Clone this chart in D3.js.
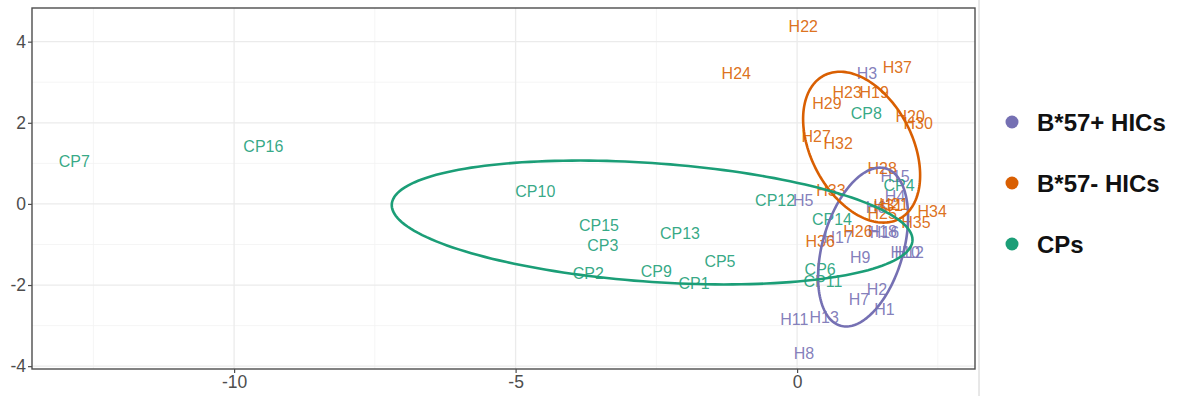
<!DOCTYPE html>
<html><head><meta charset="utf-8">
<script src="https://cdn.jsdelivr.net/npm/d3@7"></script>
<style>body{margin:0;background:#fff}svg{display:block}</style>
</head><body>
<svg id="c" width="1183" height="396"></svg>
<script>
// ---- data ----
const groups = ["B*57+ HICs", "B*57- HICs", "CPs"];
const groupColors = ["#7570B3", "#D95F02", "#1B9E77"];

const plusLabels = ["H1","H2","H3","H4","H5","H6","H7","H8","H9","H10","H11","H12","H13","H15","H16","H17","H18"];
const plusX = [1.55,1.42,1.24,1.74,0.11,1.40,1.10,0.12,1.12,1.92,-0.05,1.99,0.48,1.74,1.55,0.73,1.51];
const plusY = [-2.60,-2.10,3.23,0.18,0.08,-0.07,-2.35,-3.69,-1.32,-1.20,-2.85,-1.20,-2.80,0.69,-0.71,-0.82,-0.68];

const minusLabels = ["H19","H20","H21","H22","H23","H24","H25","H26","H27","H28","H29","H30","H31","H32","H33","H34","H35","H36","H37"];
const minusX = [1.37,2.01,1.72,0.11,0.89,-1.08,1.51,1.08,0.34,1.51,0.53,2.15,1.62,0.73,0.60,2.40,2.11,0.41,1.78];
const minusY = [2.76,2.16,-0.02,4.39,2.76,3.21,-0.24,-0.68,1.68,0.87,2.49,2.00,-0.04,1.49,0.33,-0.17,-0.46,-0.93,3.38];

const cpLabels = ["CP1","CP2","CP3","CP4","CP5","CP6","CP7","CP8","CP9","CP10","CP11","CP12","CP13","CP14","CP15","CP16"];
const cpX = [-1.83,-3.71,-3.45,1.81,-1.37,0.41,-12.84,1.23,-2.50,-4.65,0.46,-0.39,-2.08,0.62,-3.52,-9.48];
const cpY = [-1.95,-1.72,-1.03,0.47,-1.42,-1.62,1.06,2.24,-1.67,0.31,-1.91,0.08,-0.73,-0.39,-0.53,1.43];

// confidence ellipses (center and covariance-like shape, data units), per group
const ellCx  = [1.172, 1.146, -2.575];
const ellCy  = [-1.064, 1.399, -0.458];
const ellSxx = [0.639, 1.080, 21.39];
const ellSyy = [3.835, 3.459, 2.332];
const ellSxy = [0.591, -0.72, -1.980];

const xTicks = [-10, -5, 0];
const yTicks = [-4, -2, 0, 2, 4];
const xMinor = [-12.5, -7.5, -2.5, 2.5];
const yMinor = [-3, -1, 1, 3];

// ---- chart ----
const svg = d3.select("#c");
const P = {l: 32, r: 975, t: 8, b: 369};
const x = d3.scaleLinear().domain([-13.59, 3.16]).range([P.l, P.r]);
const y = d3.scaleLinear().domain([-4.07, 4.83]).range([P.b, P.t]);
const font = "'Liberation Sans', Arial, Helvetica, sans-serif";

svg.append("rect").attr("x", P.l).attr("y", P.t).attr("width", P.r - P.l).attr("height", P.b - P.t).attr("fill", "#fff");

const grid = svg.append("g");
grid.selectAll(".vm").data(xMinor).join("line")
  .attr("x1", d => x(d)).attr("x2", d => x(d)).attr("y1", P.t).attr("y2", P.b)
  .attr("stroke", "#f2f2f2").attr("stroke-width", 0.8);
grid.selectAll(".hm").data(yMinor).join("line")
  .attr("y1", d => y(d)).attr("y2", d => y(d)).attr("x1", P.l).attr("x2", P.r)
  .attr("stroke", "#f2f2f2").attr("stroke-width", 0.8);
grid.selectAll(".vM").data(xTicks).join("line")
  .attr("x1", d => x(d)).attr("x2", d => x(d)).attr("y1", P.t).attr("y2", P.b)
  .attr("stroke", "#ebebeb").attr("stroke-width", 1.3);
grid.selectAll(".hM").data(yTicks).join("line")
  .attr("y1", d => y(d)).attr("y2", d => y(d)).attr("x1", P.l).attr("x2", P.r)
  .attr("stroke", "#ebebeb").attr("stroke-width", 1.3);

// labels
const sets = [
  {labels: plusLabels, xs: plusX, ys: plusY, g: 0},
  {labels: minusLabels, xs: minusX, ys: minusY, g: 1},
  {labels: cpLabels, xs: cpX, ys: cpY, g: 2}
];
const pts = [];
sets.forEach(s => s.labels.forEach((l, i) => pts.push({label: l, x: s.xs[i], y: s.ys[i], g: s.g})));
svg.append("g").selectAll("text").data(pts).join("text")
  .attr("x", d => x(d.x)).attr("y", d => y(d.y))
  .attr("text-anchor", "middle").attr("dy", "0.36em")
  .attr("font-family", font).attr("font-size", 16)
  .attr("fill", d => groupColors[d.g]).attr("fill-opacity", 0.9)
  .text(d => d.label);

// ellipses
const line = d3.line().x(d => x(d[0])).y(d => y(d[1])).curve(d3.curveLinearClosed);
const ellData = groups.map((g, i) => {
  const l11 = Math.sqrt(ellSxx[i]);
  const l21 = ellSxy[i] / l11;
  const l22 = Math.sqrt(ellSyy[i] - l21 * l21);
  return d3.range(0, 361, 2).map(a => {
    const t = a * Math.PI / 180, c = Math.cos(t), s = Math.sin(t);
    return [ellCx[i] + l11 * c, ellCy[i] + l21 * c + l22 * s];
  });
});
svg.append("g").selectAll("path").data(ellData).join("path")
  .attr("d", d => line(d)).attr("fill", "none")
  .attr("stroke", (d, i) => groupColors[i]).attr("stroke-width", 2.6);

// panel border
svg.append("rect").attr("x", P.l).attr("y", P.t).attr("width", P.r - P.l).attr("height", P.b - P.t)
  .attr("fill", "none").attr("stroke", "#4d4d4d").attr("stroke-width", 1.4);

// axes
const xAxis = svg.append("g").attr("transform", `translate(0,${P.b})`)
  .call(d3.axisBottom(x).tickValues(xTicks).tickSize(4).tickPadding(3).tickFormat(d3.format("d")));
const yAxis = svg.append("g").attr("transform", `translate(${P.l},0)`)
  .call(d3.axisLeft(y).tickValues(yTicks).tickSize(4).tickPadding(2).tickFormat(d3.format("d")));
[xAxis, yAxis].forEach(a => {
  a.select(".domain").remove();
  a.selectAll(".tick line").attr("stroke", "#4d4d4d").attr("stroke-width", 1.2);
  a.selectAll(".tick text").attr("font-family", font).attr("font-size", 17.5).attr("fill", "#4d4d4d");
});
yAxis.selectAll(".tick text").text(d => d < 0 ? "-" + Math.abs(d) : d);
xAxis.selectAll(".tick text").text(d => d < 0 ? "-" + Math.abs(d) : d);

// separator line
svg.append("line").attr("x1", 979).attr("x2", 979).attr("y1", 0).attr("y2", 396)
  .attr("stroke", "#d0d0d0").attr("stroke-width", 1);

// legend
const leg = svg.append("g");
const legY = d3.scalePoint().domain(groups).range([122, 244]);
leg.selectAll("circle").data(groups).join("circle")
  .attr("cx", 1012).attr("cy", d => legY(d)).attr("r", 6.5)
  .attr("fill", (d, i) => groupColors[i]);
leg.selectAll("text").data(groups).join("text")
  .attr("x", 1037).attr("y", d => legY(d)).attr("dy", "0.36em")
  .attr("font-family", font).attr("font-weight", "bold").attr("font-size", 24)
  .attr("fill", "#111").text(d => d);
</script>
</body></html>
